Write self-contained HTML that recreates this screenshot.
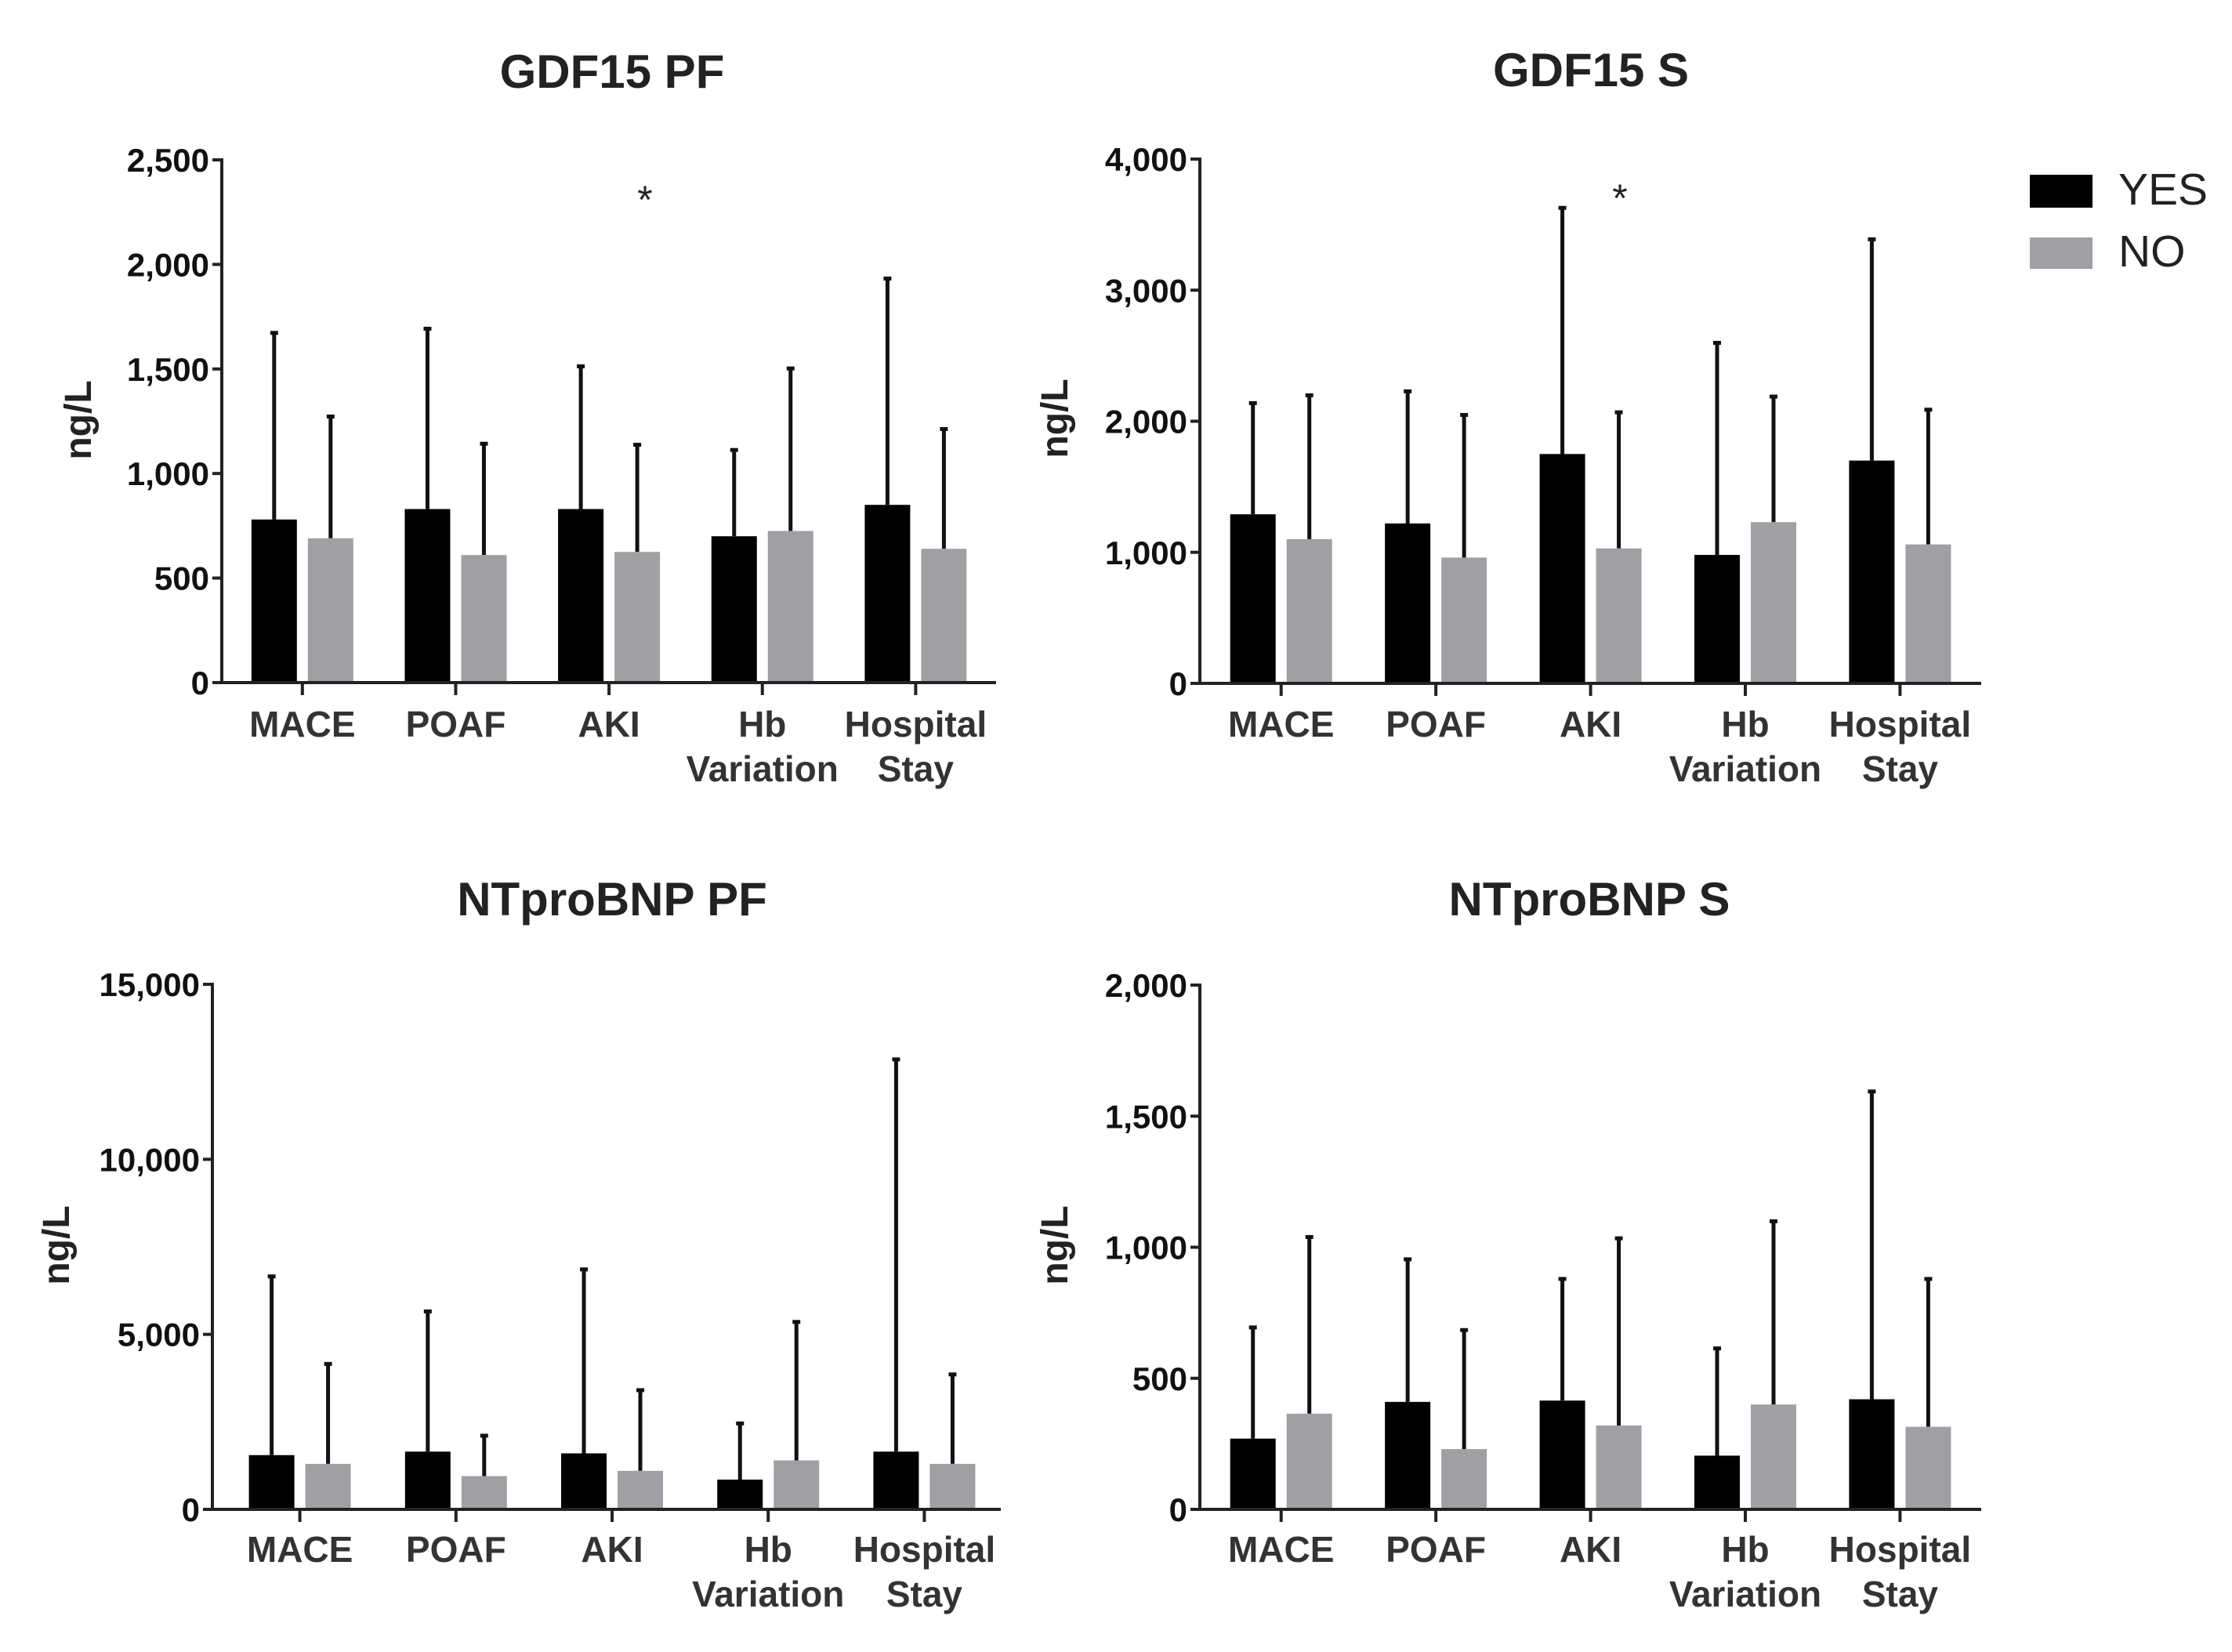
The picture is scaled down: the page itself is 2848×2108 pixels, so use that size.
<!DOCTYPE html>
<html><head><meta charset="utf-8"><style>
html,body{margin:0;padding:0;background:#fff}
svg{display:block}
text{font-family:"Liberation Sans",Arial,sans-serif}
</style></head><body>
<svg id="chart" width="2848" height="2108" viewBox="0 0 2848 2108" xmlns="http://www.w3.org/2000/svg">
<rect width="2848" height="2108" fill="#fff"/>
<g>
<rect x="2590" y="223" width="80" height="42" fill="#000"/>
<text x="2703" y="261" font-size="57" fill="#222">YES</text>
<rect x="2590" y="303" width="80" height="40" fill="#a0a0a4"/>
<text x="2703" y="340" font-size="57" fill="#222">NO</text>
</g>
</svg>
<script>
const categories = ["MACE","POAF","AKI","Hb|Variation","Hospital|Stay"];
const gdfPfYes = [780,830,830,700,850];
const gdfPfYesErr = [1680,1700,1520,1120,1940];
const gdfPfNo = [690,610,625,725,640];
const gdfPfNoErr = [1280,1150,1145,1510,1220];
const gdfSYes = [1290,1220,1750,980,1700];
const gdfSYesErr = [2150,2240,3640,2610,3400];
const gdfSNo = [1100,960,1030,1230,1060];
const gdfSNoErr = [2210,2060,2080,2200,2100];
const bnpPfYes = [1550,1650,1600,850,1650];
const bnpPfYesErr = [6700,5700,6900,2500,12900];
const bnpPfNo = [1300,950,1100,1400,1300];
const bnpPfNoErr = [4200,2150,3450,5400,3900];
const bnpSYes = [270,410,415,205,420];
const bnpSYesErr = [700,960,885,620,1600];
const bnpSNo = [365,230,320,400,315];
const bnpSNoErr = [1045,690,1040,1105,885];
const gdfPfTicks = [0,500,1000,1500,2000,2500];
const gdfSTicks = [0,1000,2000,3000,4000];
const bnpPfTicks = [0,5000,10000,15000];
const bnpSTicks = [0,500,1000,1500,2000];

const NS="http://www.w3.org/2000/svg";
const svg=document.getElementById('chart');
function mk(tag,attrs,parent,txt){const e=document.createElementNS(NS,tag);for(const k in attrs)e.setAttribute(k,attrs[k]);if(txt!==undefined)e.textContent=txt;parent.appendChild(e);return e;}
function fmt(v){return v.toLocaleString('en-US');}

const panels=[
 {name:"gdf15-pf",title:"GDF15 PF",ax:283,top:204,bot:871,right:1271,shift:0,titleX:781,titleY:112,ylX:100,ylY:536,ticks:gdfPfTicks,yes:gdfPfYes,yesE:gdfPfYesErr,no:gdfPfNo,noE:gdfPfNoErr,star:[823,252],labY:940},
 {name:"gdf15-s",title:"GDF15 S",ax:1531,top:203,bot:872,right:2528,shift:0,titleX:2030,titleY:110,ylX:1346,ylY:534,ticks:gdfSTicks,yes:gdfSYes,yesE:gdfSYesErr,no:gdfSNo,noE:gdfSNoErr,star:[2067,250],labY:940},
 {name:"ntprobnp-pf",title:"NTproBNP PF",ax:271,top:1256,bot:1926,right:1277,shift:7,titleX:781,titleY:1168,ylX:72,ylY:1589,ticks:bnpPfTicks,yes:bnpPfYes,yesE:bnpPfYesErr,no:bnpPfNo,noE:bnpPfNoErr,star:null,labY:1993},
 {name:"ntprobnp-s",title:"NTproBNP S",ax:1531,top:1257,bot:1926,right:2528,shift:0,titleX:2028,titleY:1168,ylX:1346,ylY:1589,ticks:bnpSTicks,yes:bnpSYes,yesE:bnpSYesErr,no:bnpSNo,noE:bnpSNoErr,star:null,labY:1993}
];

panels.forEach(p=>{
 const g=mk('g',{},svg);
 
 
 const maxV=p.ticks[p.ticks.length-1];
 const y=v=>p.bot-(v/maxV)*(p.bot-p.top);
 const plotW=p.right-p.ax;
 const step=plotW/5.05;
 const x=i=>p.ax+step*(0.5+i)+5+p.shift;
 const t=mk('text',{x:p.titleX,y:p.titleY,'font-size':60,'font-weight':'bold','text-anchor':'middle',fill:'#222'},g,p.title);
 
 
 const yl=mk('text',{x:0,y:0,'font-size':48,'font-weight':'bold','text-anchor':'middle',fill:'#222',transform:`translate(${p.ylX+16},${p.ylY}) rotate(-90)`},g,'ng/L');
 
 
 p.ticks.forEach(v=>{
  mk('line',{x1:p.ax-12,x2:p.ax,y1:y(v),y2:y(v),stroke:'#222','stroke-width':4},g);
  const tl=mk('text',{x:p.ax-16,y:y(v)+15,'font-size':42,'font-weight':'bold','text-anchor':'end',fill:'#111'},g,fmt(v));
  
  
 });
 const bw=58, off=36;
 categories.forEach((c,i)=>{
  const cx=x(i);
  [[p.yes[i],p.yesE[i],'#000',-off,'yes'],[p.no[i],p.noE[i],'#a0a0a4',off,'no']].forEach(([v,e,col,o,s])=>{
   const bx=cx+o;
   const eb=mk('line',{x1:bx,x2:bx,y1:y(v),y2:y(e),stroke:'#111','stroke-width':5},g);
   
   
   mk('line',{x1:bx-5,x2:bx+5,y1:y(e)+2,y2:y(e)+2,stroke:'#111','stroke-width':5},g);
   const r=mk('rect',{x:bx-bw/2,y:y(v),width:bw,height:p.bot-y(v),fill:col},g);
   
   
  });
  mk('line',{x1:cx,x2:cx,y1:p.bot,y2:p.bot+16,stroke:'#222','stroke-width':4},g);
  const parts=c.split('|');
  parts.forEach((ln,j)=>{
   const cl=mk('text',{x:cx,y:p.labY+j*57,'font-size':46,'font-weight':'bold','text-anchor':'middle',fill:'#333'},g,ln);
   
   
  });
 });
 const axl=mk('path',{d:`M${p.ax-12},${p.top} H${p.ax} V${p.bot} H${p.right}`,fill:'none',stroke:'#222','stroke-width':4},g);
 
 
 if(p.star){
  const st=mk('text',{x:p.star[0],y:p.star[1]+20,'font-size':50,'text-anchor':'middle',fill:'#222'},g,'*');
  
  
 }
});
</script>
</body></html>
